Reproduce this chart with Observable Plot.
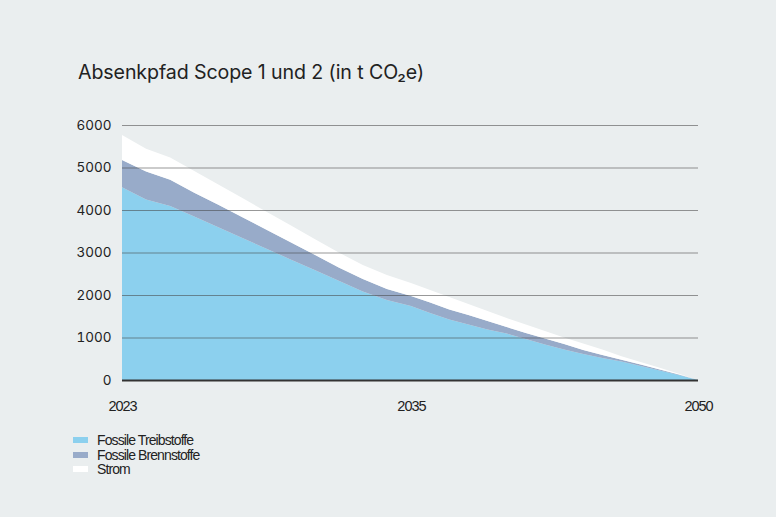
<!DOCTYPE html>
<html>
<head>
<meta charset="utf-8">
<script src="https://cdn.jsdelivr.net/npm/d3@7"></script>
<script src="https://cdn.jsdelivr.net/npm/@observablehq/plot@0.6"></script>
<style>
  html, body { margin: 0; padding: 0; background: #eaeeef; width: 776px; height: 517px; overflow: hidden; }
  #title { position: absolute; left: 78px; top: 60px; font-family: Inter, "Noto Sans", sans-serif; font-size: 19.6px; color: #222; letter-spacing: -0.1px; }
  #chart { position: absolute; left: 0; top: 100px; }
  #legend { position: absolute; left: 73px; top: 433px; font-family: "Liberation Sans", Arial, sans-serif; font-size: 14px; letter-spacing: -0.9px; color: #222; }
  .item { height: 14.5px; line-height: 14.5px; display: flex; align-items: center; }
  .sw { width: 15px; height: 6px; margin-right: 9px; }
  #chart g[aria-label="x-axis tick label"] { font-size: 14.5px; font-family: "Liberation Sans", Arial, sans-serif; }
  #chart g[aria-label="x-axis tick label"] text { letter-spacing: -1px; }
  #chart g[aria-label="y-axis tick label"] { font-size: 13.5px; }
</style>
</head>
<body>
<div id="title">Absenkpfad Scope 1 und 2 (in t CO₂e)</div>
<div id="chart"></div>
<div id="legend"></div>
<script>
const years = [2023, 2024, 2025, 2026, 2027, 2028, 2029, 2030, 2031, 2032, 2033, 2034, 2035,
  2036, 2037, 2038, 2039, 2040, 2041, 2042, 2043, 2044, 2045, 2046, 2047, 2048, 2049, 2050];
const seriesNames = ["Fossile Treibstoffe", "Fossile Brennstoffe", "Strom"];
const seriesColors = ["#8cd0ee", "#98abc9", "#ffffff"];
const treibstoffe = [4534, 4247, 4096, 3845, 3593, 3341, 3089, 2838, 2586, 2334, 2082, 1882, 1741,
  1576, 1424, 1306, 1188, 1094, 965, 835, 718, 612, 518, 435, 329, 224, 118, 0];
const brennstoffe = [642, 659, 617, 560, 532, 490, 445, 402, 360, 315, 295, 260, 235,
  248, 235, 223, 200, 153, 141, 141, 129, 94, 70, 40, 35, 25, 12, 0];
const strom = [589, 536, 525, 513, 475, 449, 426, 400, 374, 351, 329, 330, 306,
  294, 294, 259, 236, 212, 200, 177, 153, 153, 130, 85, 60, 40, 20, 0];
const yTicks = [0, 1000, 2000, 3000, 4000, 5000, 6000];
const xTicks = [2023, 2035, 2050];
// the time axis is drawn in two sections: 2023–2035 on the left half, 2035–2050 on the right half
const xBreaks = [2023, 2035, 2050];
const xBreakShare = [0, 0.5017, 1];

const seriesValues = [treibstoffe, brennstoffe, strom];
const data = [];
seriesNames.forEach((s, i) => years.forEach((yr, j) => data.push({year: yr, series: s, value: seriesValues[i][j]})));

const piecewise = d3.scaleLinear().domain(xBreaks).range(xBreakShare);

const plot = Plot.plot({
  width: 776,
  height: 320,
  marginLeft: 122,
  marginRight: 78,
  marginTop: 25,
  marginBottom: 40,
  style: {fontFamily: "Inter, 'Noto Sans', sans-serif", fontSize: "13.5px", color: "#222", background: "transparent"},
  x: {type: "linear", transform: piecewise, domain: [0, 1]},
  y: {domain: [0, 6000]},
  color: {domain: seriesNames, range: seriesColors},
  marks: [
    Plot.areaY(data, Plot.stackY({x: "year", y: "value", z: "series", fill: "series", order: seriesNames})),
    Plot.ruleY(yTicks.filter(d => d > 0), {stroke: "#444", strokeOpacity: 0.55, strokeWidth: 1}),
    Plot.ruleY([0], {stroke: "#333", strokeWidth: 2}),
    Plot.axisY({ticks: yTicks, tickSize: 0, tickPadding: 11, tickFormat: d => String(d), label: null}),
    Plot.axisX({ticks: xTicks.map(piecewise), tickSize: 0, tickPadding: 20,
      tickFormat: d => String(Math.round(piecewise.invert(d))), label: null})
  ]
});
document.getElementById("chart").appendChild(plot);

const legend = document.getElementById("legend");
seriesNames.forEach((s, i) => {
  const it = document.createElement("div");
  it.className = "item";
  const sw = document.createElement("div");
  sw.className = "sw";
  sw.style.background = seriesColors[i];
  const tx = document.createElement("span");
  tx.textContent = s;
  it.appendChild(sw); it.appendChild(tx);
  legend.appendChild(it);
});
</script>
</body>
</html>
